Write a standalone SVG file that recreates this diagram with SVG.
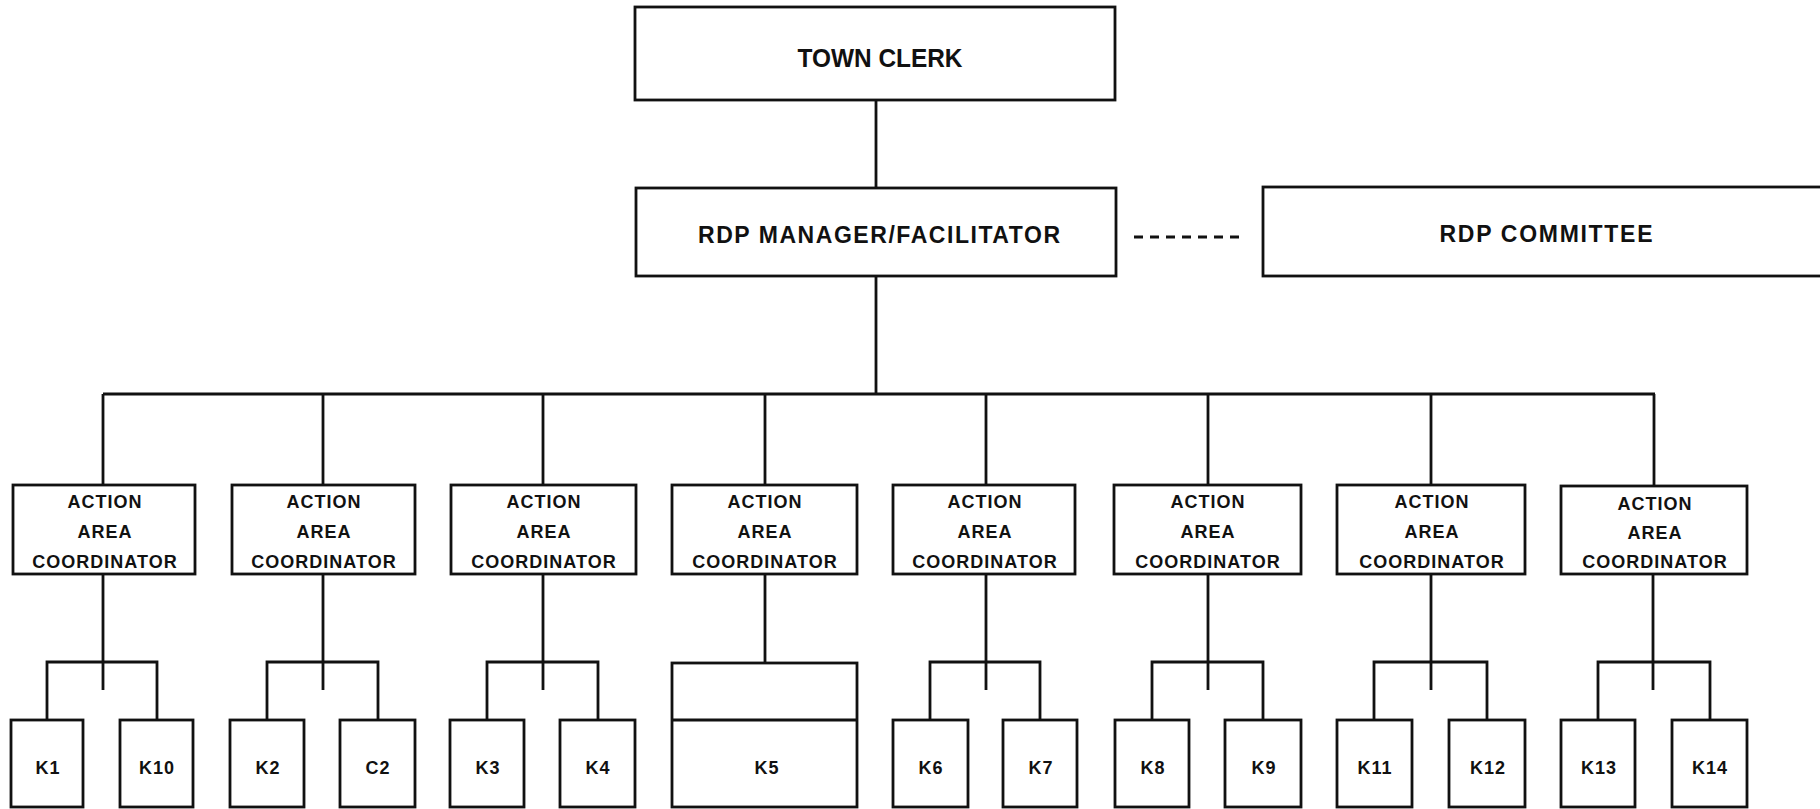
<svg xmlns="http://www.w3.org/2000/svg" width="1820" height="809" viewBox="0 0 1820 809">
<style>
.box{fill:none;stroke:#111;stroke-width:2.8}
.ln{fill:none;stroke:#111;stroke-width:2.8}
.dash{fill:none;stroke:#111;stroke-width:3;stroke-dasharray:9 7}
text{font-family:"Liberation Sans",Arial,sans-serif;font-weight:bold;fill:#111;text-anchor:middle}
.big{font-size:24px}
.sm{font-size:18px;letter-spacing:1px}
</style>
<rect width="1820" height="809" fill="#fff"/>
<g id="connectors">
<line class="ln" x1="876" y1="100" x2="876" y2="188"/>
<line class="dash" x1="1134" y1="237" x2="1242" y2="237"/>
<line class="ln" x1="876" y1="276" x2="876" y2="394"/>
<line class="ln" x1="103" y1="394" x2="1655" y2="394"/>
<line class="ln" x1="103" y1="394" x2="103" y2="485"/>
<line class="ln" x1="323" y1="394" x2="323" y2="485"/>
<line class="ln" x1="543" y1="394" x2="543" y2="485"/>
<line class="ln" x1="765" y1="394" x2="765" y2="485"/>
<line class="ln" x1="986" y1="394" x2="986" y2="485"/>
<line class="ln" x1="1208" y1="394" x2="1208" y2="485"/>
<line class="ln" x1="1431" y1="394" x2="1431" y2="485"/>
<line class="ln" x1="1654" y1="394" x2="1654" y2="485"/>
<path class="ln" d="M103 574V690M47 720V662H157V720"/>
<path class="ln" d="M323 574V690M267 720V662H378V720"/>
<path class="ln" d="M543 574V690M487 720V662H598V720"/>
<path class="ln" d="M765 574V663"/>
<path class="ln" d="M986 574V690M930 720V662H1040V720"/>
<path class="ln" d="M1208 574V690M1152 720V662H1263V720"/>
<path class="ln" d="M1431 574V690M1374 720V662H1487V720"/>
<path class="ln" d="M1653 574V690M1598 720V662H1710V720"/>
</g>
<g id="town-clerk"><rect class="box" x="635" y="7" width="480" height="93"/><text class="big" x="880" y="67" style="font-size:25px" textLength="165" lengthAdjust="spacingAndGlyphs">TOWN CLERK</text></g>
<g id="rdp-manager"><rect class="box" x="636" y="188" width="480" height="88"/><text class="big" x="879" y="243" style="font-size:23px" textLength="362">RDP MANAGER/FACILITATOR</text></g>
<g id="rdp-committee"><rect class="box" x="1263" y="187" width="570" height="89"/><text class="big" x="1546" y="242" style="font-size:23px" textLength="213">RDP COMMITTEE</text></g>
<g id="aac1"><rect class="box" x="13" y="485" width="182" height="89"/><text class="sm" x="105" y="508">ACTION</text><text class="sm" x="105" y="538">AREA</text><text class="sm" x="105" y="568">COORDINATOR</text></g>
<g id="aac2"><rect class="box" x="232" y="485" width="183" height="89"/><text class="sm" x="324" y="508">ACTION</text><text class="sm" x="324" y="538">AREA</text><text class="sm" x="324" y="568">COORDINATOR</text></g>
<g id="aac3"><rect class="box" x="451" y="485" width="185" height="89"/><text class="sm" x="544" y="508">ACTION</text><text class="sm" x="544" y="538">AREA</text><text class="sm" x="544" y="568">COORDINATOR</text></g>
<g id="aac4"><rect class="box" x="672" y="485" width="185" height="89"/><text class="sm" x="765" y="508">ACTION</text><text class="sm" x="765" y="538">AREA</text><text class="sm" x="765" y="568">COORDINATOR</text></g>
<g id="aac5"><rect class="box" x="893" y="485" width="182" height="89"/><text class="sm" x="985" y="508">ACTION</text><text class="sm" x="985" y="538">AREA</text><text class="sm" x="985" y="568">COORDINATOR</text></g>
<g id="aac6"><rect class="box" x="1114" y="485" width="187" height="89"/><text class="sm" x="1208" y="508">ACTION</text><text class="sm" x="1208" y="538">AREA</text><text class="sm" x="1208" y="568">COORDINATOR</text></g>
<g id="aac7"><rect class="box" x="1337" y="485" width="188" height="89"/><text class="sm" x="1432" y="508">ACTION</text><text class="sm" x="1432" y="538">AREA</text><text class="sm" x="1432" y="568">COORDINATOR</text></g>
<g id="aac8"><rect class="box" x="1561" y="486" width="186" height="88"/><text class="sm" x="1655" y="510">ACTION</text><text class="sm" x="1655" y="539">AREA</text><text class="sm" x="1655" y="568">COORDINATOR</text></g>
<g id="k1"><rect class="box" x="11" y="720" width="72" height="87"/><text class="sm" x="48" y="774">K1</text></g>
<g id="k10"><rect class="box" x="120" y="720" width="73" height="87"/><text class="sm" x="157" y="774">K10</text></g>
<g id="k2"><rect class="box" x="230" y="720" width="74" height="87"/><text class="sm" x="268" y="774">K2</text></g>
<g id="c2"><rect class="box" x="340" y="720" width="75" height="87"/><text class="sm" x="378" y="774">C2</text></g>
<g id="k3"><rect class="box" x="450" y="720" width="74" height="87"/><text class="sm" x="488" y="774">K3</text></g>
<g id="k4"><rect class="box" x="560" y="720" width="75" height="87"/><text class="sm" x="598" y="774">K4</text></g>
<g id="k5"><rect class="box" x="672" y="663" width="185" height="144"/><line class="ln" x1="672" y1="720" x2="857" y2="720"/><text class="sm" x="767" y="774">K5</text></g>
<g id="k6"><rect class="box" x="893" y="720" width="75" height="87"/><text class="sm" x="931" y="774">K6</text></g>
<g id="k7"><rect class="box" x="1003" y="720" width="74" height="87"/><text class="sm" x="1041" y="774">K7</text></g>
<g id="k8"><rect class="box" x="1115" y="720" width="74" height="87"/><text class="sm" x="1153" y="774">K8</text></g>
<g id="k9"><rect class="box" x="1225" y="720" width="76" height="87"/><text class="sm" x="1264" y="774">K9</text></g>
<g id="k11"><rect class="box" x="1337" y="720" width="75" height="87"/><text class="sm" x="1375" y="774">K11</text></g>
<g id="k12"><rect class="box" x="1449" y="720" width="76" height="87"/><text class="sm" x="1488" y="774">K12</text></g>
<g id="k13"><rect class="box" x="1561" y="720" width="74" height="87"/><text class="sm" x="1599" y="774">K13</text></g>
<g id="k14"><rect class="box" x="1672" y="720" width="75" height="87"/><text class="sm" x="1710" y="774">K14</text></g>
</svg>
